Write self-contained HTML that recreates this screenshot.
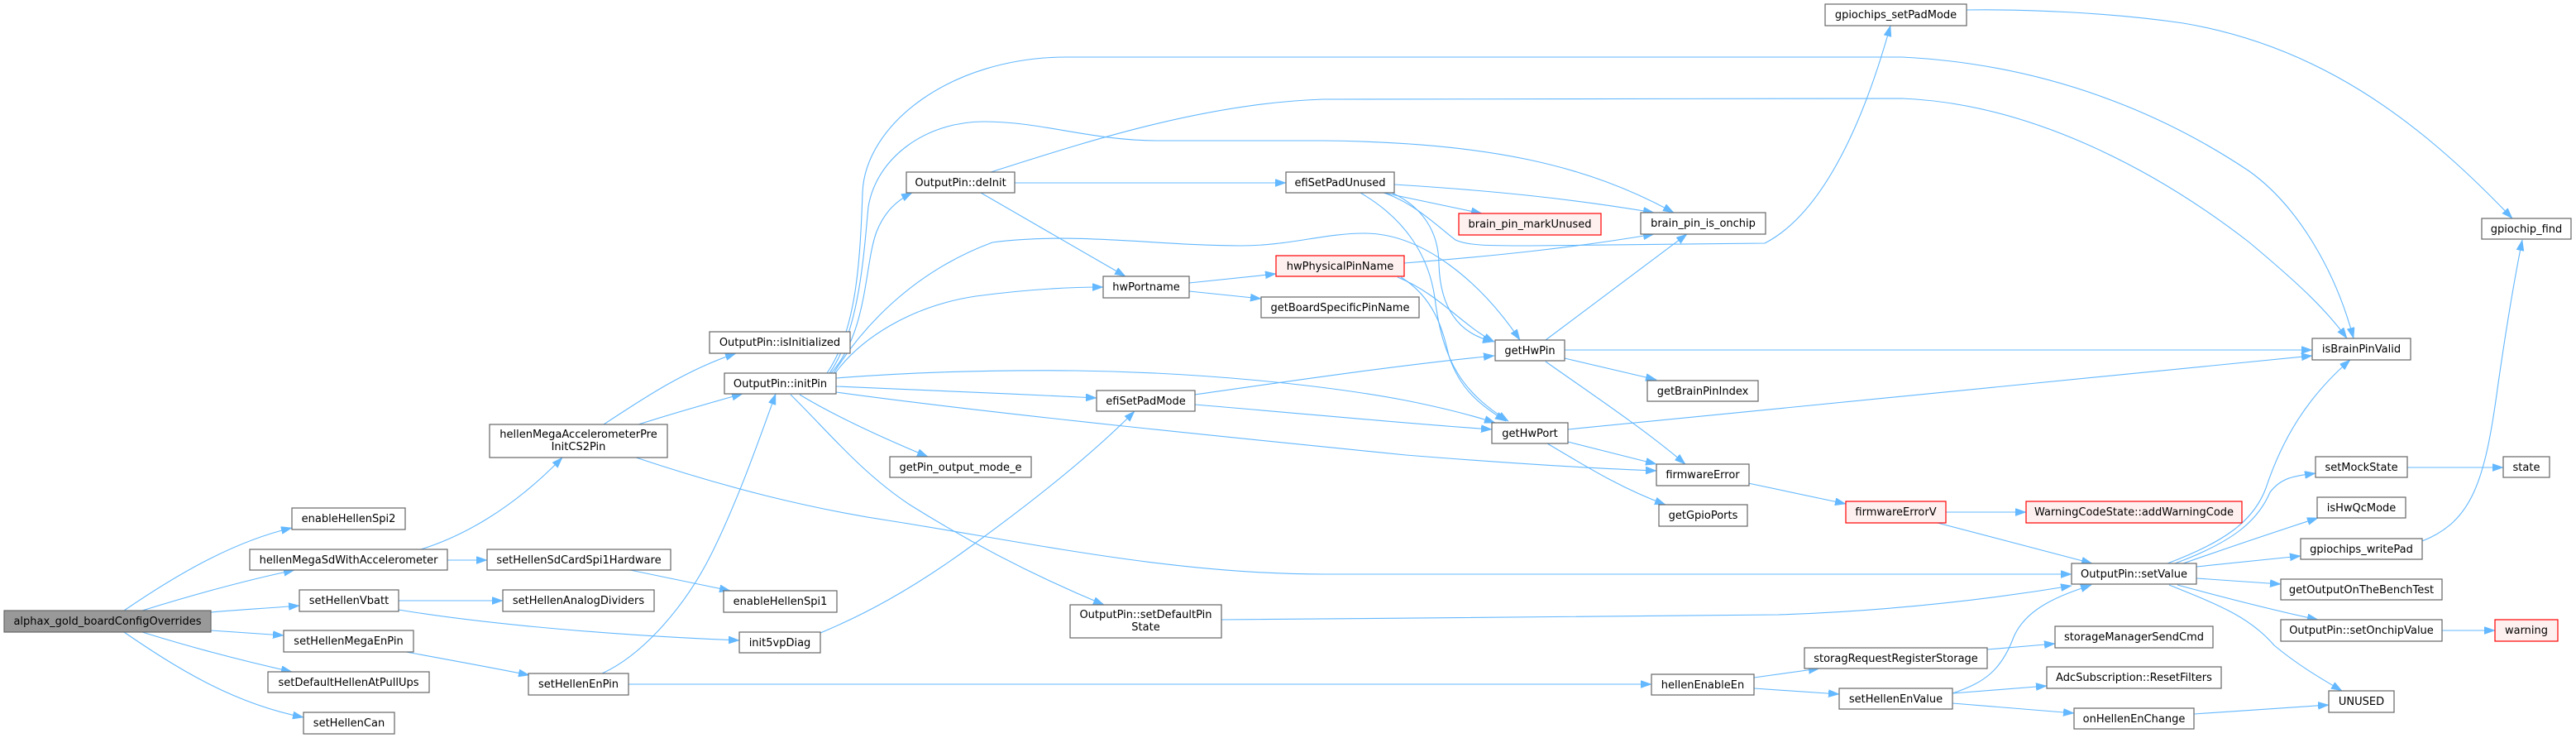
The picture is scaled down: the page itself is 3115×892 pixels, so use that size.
<!DOCTYPE html>
<html><head><meta charset="utf-8">
<style>
html,body{margin:0;padding:0;background:#fff;}
svg{display:block;}
.n{fill:#fff;stroke:#666;stroke-width:1.2;}
.r{fill:#fff0f0;stroke:#ff0000;stroke-width:1.2;}
.g{fill:#999;stroke:#666;stroke-width:1.2;}
.e{fill:none;stroke:#63b8ff;stroke-width:1.1;marker-end:url(#a);}
text{font-family:"DejaVu Sans","Liberation Sans",sans-serif;font-size:13px;fill:#000;text-anchor:middle;}
</style></head>
<body>
<svg width="3115" height="892" viewBox="0 0 3115 892" xmlns="http://www.w3.org/2000/svg">
<defs>
<marker id="a" markerUnits="userSpaceOnUse" markerWidth="14" markerHeight="10" refX="13" refY="4.6" orient="auto">
<path d="M0,0 L13,4.6 L0,9.2 z" fill="#63b8ff" stroke="#63b8ff" stroke-width="0.5"/>
</marker>
</defs>

<!-- edges -->
<path class="e" d="M150,738 C210,697 280,655 353,638"/>
<path class="e" d="M172,738 C230,720 290,703 356,689"/>
<path class="e" d="M255,740 C290,737 325,735 362,732"/>
<path class="e" d="M255,762 C285,764 315,766 343,768"/>
<path class="e" d="M172,764 C230,782 290,798 353,812"/>
<path class="e" d="M150,764 C210,805 280,850 367,867"/>
<path class="e" d="M509,664 C560,648 620,615 680,553"/>
<path class="e" d="M541,677 L589,677"/>
<path class="e" d="M482,726 L608,726"/>
<path class="e" d="M482,737 C560,750 700,766 894,774"/>
<path class="e" d="M491,788 C540,797 590,806 640,816"/>
<path class="e" d="M730,513 C780,480 830,447 890,427"/>
<path class="e" d="M772,513 C810,501 855,488 898,476"/>
<path class="e" d="M769,553 C880,590 980,615 1080,630 C1250,657 1420,694 1600,694 L2505,694"/>
<path class="e" d="M1000,451 C1035,400 1040,320 1043,233 C1046,150 1150,69 1290,69 L2300,69 C2480,78 2620,140 2720,207 C2780,250 2825,330 2846,409"/>
<path class="e" d="M1003,451 C1040,400 1045,300 1050,250 C1060,190 1120,147 1190,147 C1260,147 1320,170 1400,170 L1600,170 C1800,172 1920,200 2024,257"/>
<path class="e" d="M1005,451 C1050,400 1045,320 1060,280 C1070,255 1085,242 1103,233"/>
<path class="e" d="M1008,451 C1040,400 1100,330 1200,293 C1300,280 1400,297 1500,297 C1560,297 1600,282 1650,282 C1720,282 1790,340 1838,411"/>
<path class="e" d="M1010,451 C1040,410 1100,370 1180,358 C1240,350 1290,347 1334,347"/>
<path class="e" d="M1011,457 C1100,450 1200,447 1300,448 C1450,450 1600,465 1700,484 C1750,494 1780,502 1808,511"/>
<path class="e" d="M1011,467 C1100,470 1220,476 1326,481"/>
<path class="e" d="M1011,474 C1200,500 1500,530 1700,550 C1850,562 1950,567 2003,569"/>
<path class="e" d="M967,477 C1000,497 1050,522 1122,552"/>
<path class="e" d="M956,477 C1000,520 1040,570 1100,610 C1180,660 1260,700 1335,731"/>
<path class="e" d="M1227,221 L1555,221"/>
<path class="e" d="M1186,233 L1361,334"/>
<path class="e" d="M1198,208 C1300,176 1450,125 1600,120 L2300,119 C2450,125 2600,200 2720,293 C2770,335 2810,370 2838,409"/>
<path class="e" d="M1438,342 L1543,331"/>
<path class="e" d="M1438,352 L1525,361"/>
<path class="e" d="M1673,233 L1792,258"/>
<path class="e" d="M1686,223 C1800,230 1900,240 2000,257"/>
<path class="e" d="M1683,233 C1720,250 1740,280 1740,320 C1742,380 1770,405 1806,413"/>
<path class="e" d="M1645,233 C1700,265 1728,310 1735,360 C1745,440 1770,475 1824,509"/>
<path class="e" d="M1673,233 C1710,245 1740,275 1760,290 C1775,297 1800,297 1850,297 L2134,294 C2200,260 2250,160 2286,31"/>
<path class="e" d="M1698,318 C1800,310 1900,300 2000,283"/>
<path class="e" d="M1690,335 C1740,355 1770,395 1807,413"/>
<path class="e" d="M1694,335 C1735,360 1745,400 1752,430 C1765,470 1790,490 1821,509"/>
<path class="e" d="M1869,411 L2040,283"/>
<path class="e" d="M1892,423 L2796,423"/>
<path class="e" d="M1892,433 L2003,459"/>
<path class="e" d="M1869,437 C1930,480 1990,520 2038,561"/>
<path class="e" d="M1896,519 L2796,430"/>
<path class="e" d="M1896,534 L2003,561"/>
<path class="e" d="M1871,536 C1920,565 1960,590 2014,610"/>
<path class="e" d="M2114,584 L2232,609"/>
<path class="e" d="M2353,619 L2450,619"/>
<path class="e" d="M2343,632 L2530,681"/>
<path class="e" d="M1477,749 C1700,747 2000,745 2150,743 C2300,738 2420,722 2505,708"/>
<path class="e" d="M728,814 C780,790 830,730 860,670 C890,610 915,540 938,476"/>
<path class="e" d="M760,827 L1997,827"/>
<path class="e" d="M992,765 C1040,745 1100,715 1180,656 C1250,605 1320,550 1372,497"/>
<path class="e" d="M762,689 L883,714"/>
<path class="e" d="M1445,477 C1550,462 1700,440 1807,430"/>
<path class="e" d="M1445,489 C1600,502 1700,512 1804,519"/>
<path class="e" d="M2121,819 L2200,808"/>
<path class="e" d="M2121,832 L2224,839"/>
<path class="e" d="M2403,785 L2485,778"/>
<path class="e" d="M2361,838 C2400,825 2420,810 2435,770 C2450,735 2490,720 2529,707"/>
<path class="e" d="M2361,838 L2475,829"/>
<path class="e" d="M2361,850 L2508,862"/>
<path class="e" d="M2653,863 L2816,852"/>
<path class="e" d="M2621,681 C2690,655 2725,630 2740,590 C2760,530 2790,480 2842,435"/>
<path class="e" d="M2630,681 C2700,655 2730,630 2745,595 C2760,575 2780,575 2800,572"/>
<path class="e" d="M2640,681 C2700,660 2760,640 2803,626"/>
<path class="e" d="M2656,685 L2782,672"/>
<path class="e" d="M2656,699 L2758,706"/>
<path class="e" d="M2633,707 C2700,725 2760,740 2803,749"/>
<path class="e" d="M2623,707 C2680,730 2720,745 2750,780 C2780,805 2810,822 2832,835"/>
<path class="e" d="M2911,565 L3027,565"/>
<path class="e" d="M2953,762 L3017,762"/>
<path class="e" d="M2929,654 C2990,630 3005,580 3020,470 C3030,400 3040,340 3050,290"/>
<path class="e" d="M2378,12 C2450,11 2550,15 2640,28 C2800,55 2920,140 3038,264"/>

<!-- nodes -->
<rect class="g" x="5" y="738" width="250" height="26"/><text x="130" y="755">alphax_gold_boardConfigOverrides</text>
<rect class="n" x="353" y="614" width="137" height="26"/><text x="421.5" y="631">enableHellenSpi2</text>
<rect class="n" x="302" y="664" width="239" height="25"/><text x="421.5" y="681">hellenMegaSdWithAccelerometer</text>
<rect class="n" x="362" y="713" width="120" height="26"/><text x="422" y="730">setHellenVbatt</text>
<rect class="n" x="343" y="762" width="157" height="26"/><text x="421.5" y="779">setHellenMegaEnPin</text>
<rect class="n" x="324" y="812" width="195" height="25"/><text x="421.5" y="829">setDefaultHellenAtPullUps</text>
<rect class="n" x="367" y="861" width="110" height="26"/><text x="422" y="878">setHellenCan</text>

<rect class="n" x="858" y="401" width="170" height="26"/><text x="943" y="418">OutputPin::isInitialized</text>
<rect class="n" x="876" y="451" width="135" height="25"/><text x="943.5" y="468">OutputPin::initPin</text>
<rect class="n" x="592" y="513" width="215" height="40"/><text x="699.5" y="529">hellenMegaAccelerometerPre</text><text x="699.5" y="544">InitCS2Pin</text>
<rect class="n" x="589" y="664" width="222" height="25"/><text x="700" y="681">setHellenSdCardSpi1Hardware</text>
<rect class="n" x="608" y="713" width="183" height="26"/><text x="699.5" y="730">setHellenAnalogDividers</text>
<rect class="n" x="875" y="714" width="137" height="26"/><text x="943.5" y="731">enableHellenSpi1</text>
<rect class="n" x="894" y="764" width="98" height="25"/><text x="943" y="781">init5vpDiag</text>
<rect class="n" x="639" y="814" width="121" height="26"/><text x="699.5" y="831">setHellenEnPin</text>

<rect class="n" x="1096" y="208" width="131" height="25"/><text x="1161.5" y="225">OutputPin::deInit</text>
<rect class="n" x="1076" y="552" width="171" height="25"/><text x="1161.5" y="569">getPin_output_mode_e</text>

<rect class="n" x="1334" y="334" width="104" height="26"/><text x="1386" y="351">hwPortname</text>
<rect class="n" x="1326" y="472" width="119" height="25"/><text x="1385.5" y="489">efiSetPadMode</text>
<rect class="n" x="1294" y="731" width="183" height="40"/><text x="1385.5" y="747">OutputPin::setDefaultPin</text><text x="1385.5" y="762">State</text>

<rect class="n" x="1555" y="208" width="131" height="25"/><text x="1620.5" y="225">efiSetPadUnused</text>
<rect class="r" x="1543" y="309" width="155" height="25"/><text x="1620.5" y="326">hwPhysicalPinName</text>
<rect class="n" x="1525" y="359" width="191" height="25"/><text x="1620.5" y="376">getBoardSpecificPinName</text>

<rect class="r" x="1764" y="258" width="172" height="26"/><text x="1850" y="275">brain_pin_markUnused</text>
<rect class="n" x="1808" y="411" width="84" height="25"/><text x="1850" y="428">getHwPin</text>
<rect class="n" x="1804" y="511" width="92" height="25"/><text x="1850" y="528">getHwPort</text>

<rect class="n" x="1984" y="257" width="151" height="26"/><text x="2059.5" y="274">brain_pin_is_onchip</text>
<rect class="n" x="1992" y="460" width="134" height="25"/><text x="2059" y="477">getBrainPinIndex</text>
<rect class="n" x="2003" y="561" width="112" height="26"/><text x="2059" y="578">firmwareError</text>
<rect class="n" x="2006" y="610" width="107" height="26"/><text x="2059.5" y="627">getGpioPorts</text>
<rect class="n" x="1997" y="815" width="124" height="25"/><text x="2059" y="832">hellenEnableEn</text>

<rect class="n" x="2207" y="5" width="171" height="26"/><text x="2292.5" y="22">gpiochips_setPadMode</text>
<rect class="r" x="2232" y="606" width="121" height="26"/><text x="2292.5" y="623">firmwareErrorV</text>
<rect class="n" x="2182" y="783" width="221" height="25"/><text x="2292.5" y="800">storagRequestRegisterStorage</text>
<rect class="n" x="2224" y="832" width="137" height="25"/><text x="2292.5" y="849">setHellenEnValue</text>

<rect class="r" x="2450" y="606" width="261" height="26"/><text x="2580.5" y="623">WarningCodeState::addWarningCode</text>
<rect class="n" x="2505" y="681" width="151" height="25"/><text x="2580.5" y="698">OutputPin::setValue</text>
<rect class="n" x="2485" y="757" width="191" height="26"/><text x="2580.5" y="774">storageManagerSendCmd</text>
<rect class="n" x="2475" y="806" width="211" height="26"/><text x="2580.5" y="823">AdcSubscription::ResetFilters</text>
<rect class="n" x="2508" y="856" width="145" height="25"/><text x="2580.5" y="873">onHellenEnChange</text>

<rect class="n" x="2796" y="409" width="119" height="26"/><text x="2855.5" y="426">isBrainPinValid</text>
<rect class="n" x="2800" y="552" width="111" height="25"/><text x="2855.5" y="569">setMockState</text>
<rect class="n" x="2802" y="601" width="107" height="25"/><text x="2855.5" y="618">isHwQcMode</text>
<rect class="n" x="2782" y="651" width="147" height="25"/><text x="2855.5" y="668">gpiochips_writePad</text>
<rect class="n" x="2758" y="700" width="195" height="25"/><text x="2855.5" y="717">getOutputOnTheBenchTest</text>
<rect class="n" x="2758" y="749" width="195" height="26"/><text x="2855.5" y="766">OutputPin::setOnchipValue</text>
<rect class="n" x="2816" y="835" width="79" height="26"/><text x="2855.5" y="852">UNUSED</text>

<rect class="n" x="3001" y="264" width="108" height="25"/><text x="3055" y="281">gpiochip_find</text>
<rect class="n" x="3027" y="552" width="56" height="25"/><text x="3055" y="569">state</text>
<rect class="r" x="3017" y="749" width="76" height="26"/><text x="3055" y="766">warning</text>
</svg>
</body></html>
